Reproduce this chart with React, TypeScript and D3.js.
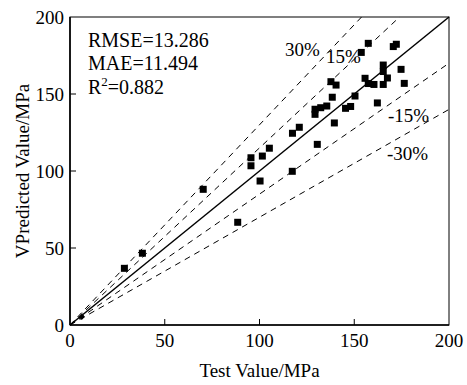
import React from "react";
import * as d3 from "d3";

const testValues = [28.7, 38.2, 70.3, 88.5, 95.5, 95.5, 101.5, 100.3, 105.2, 117.3, 117.4, 121, 130.5, 129.3, 129.3, 132.3, 135.5, 139.5, 138.4, 137.7, 140.4, 145.4, 148.1, 150.4, 153.7, 157.4, 155.7, 157.4, 160.4, 162.2, 165.3, 165.3, 167.5, 165.3, 170.6, 172.2, 174.7, 176.4];
const predictedValues = [36.8, 46.6, 88.1, 66.7, 108.6, 103.4, 109.7, 93.5, 114.8, 99.8, 124.5, 128.4, 117.3, 140.1, 136.8, 141.1, 142.2, 131.2, 147.9, 158, 155.8, 140.7, 141.9, 148.7, 177, 182.9, 160.2, 156.8, 156.2, 144.2, 168.8, 164.6, 160.4, 156.2, 180.8, 182.3, 166, 156.9];
const originPoint = [6.2, 5.2];
const ticks = [0, 50, 100, 150, 200];
const bandFactors = [1.3, 1.15, 0.85, 0.7];
const bandLabels = ["30%", "15%", "-15%", "-30%"];
const stats = ["RMSE=13.286", "MAE=11.494"];

const W = 467, H = 385;
const L = 70, R = 449, T = 17, B = 325;
const font = "'Liberation Serif', 'Times New Roman', serif";

export default function App() {
  const x = d3.scaleLinear().domain([0, 200]).range([L, R]);
  const y = d3.scaleLinear().domain([0, 200]).range([B, T]);
  const line = (k: number) => {
    const xe = Math.min(200, 200 / k);
    return d3.line<number>().x((d) => x(d)).y((d) => y(d * k))([0, xe]) as string;
  };
  const labelPos: [number, number][] = [
    [285, 56],
    [326, 63],
    [388, 122],
    [387, 160],
  ];
  const s = 7;
  return (
    <svg width={W} height={H} style={{ display: "block", position: "absolute", left: 0, top: 0 }} fontFamily={font}>
      <rect x={0} y={0} width={W} height={H} fill="#fff" />
      {bandFactors.map((k, i) => (
        <path key={i} d={line(k)} stroke="#000" strokeWidth={1} strokeDasharray="6,5" fill="none" />
      ))}
      <path d={line(1)} stroke="#000" strokeWidth={1.5} fill="none" />
      {testValues.map((tv, i) => (
        <rect key={i} x={x(tv) - s / 2} y={y(predictedValues[i]) - s / 2} width={s} height={s} fill="#000" />
      ))}
      <path
        d={`M${x(originPoint[0])},${y(originPoint[1]) - 3}L${x(originPoint[0]) + 3},${y(originPoint[1])}L${x(originPoint[0])},${y(originPoint[1]) + 3}L${x(originPoint[0]) - 3},${y(originPoint[1])}Z`}
        fill="#000"
      />
      <rect x={L} y={T} width={R - L} height={B - T} fill="none" stroke="#000" strokeWidth={1} />
      <line x1={L} x2={L} y1={T} y2={B} stroke="#000" strokeWidth={1.6} />
      <line x1={L} x2={R} y1={B} y2={B} stroke="#000" strokeWidth={1.6} />
      {ticks.map((t) => (
        <g key={"x" + t}>
          {t > 0 && t < 200 && <line x1={x(t)} x2={x(t)} y1={B} y2={B - 6} stroke="#000" strokeWidth={1} />}
          <text x={x(t)} y={347} fontSize={19} textAnchor="middle">{t}</text>
        </g>
      ))}
      {ticks.map((t) => (
        <g key={"y" + t}>
          {t > 0 && t < 200 && <line x1={L} x2={L + 6} y1={y(t)} y2={y(t)} stroke="#000" strokeWidth={1} />}
          <text x={64} y={y(t) + 6.5} fontSize={19} textAnchor="end">{t}</text>
        </g>
      ))}
      {bandLabels.map((lb, i) => (
        <text key={lb} x={labelPos[i][0]} y={labelPos[i][1]} fontSize={19}>{lb}</text>
      ))}
      {stats.map((st, i) => (
        <text key={st} x={88} y={47 + i * 23} fontSize={20}>{st}</text>
      ))}
      <text x={88} y={94} fontSize={20}>
        R<tspan fontSize={13} dy={-8}>2</tspan><tspan dy={8}>=0.882</tspan>
      </text>
      <text x={(L + R) / 2} y={377} fontSize={19} textAnchor="middle">Test Value/MPa</text>
      <text transform={`translate(29,${(T + B) / 2}) rotate(-90)`} fontSize={19} textAnchor="middle">VPredicted Value/MPa</text>
    </svg>
  );
}
